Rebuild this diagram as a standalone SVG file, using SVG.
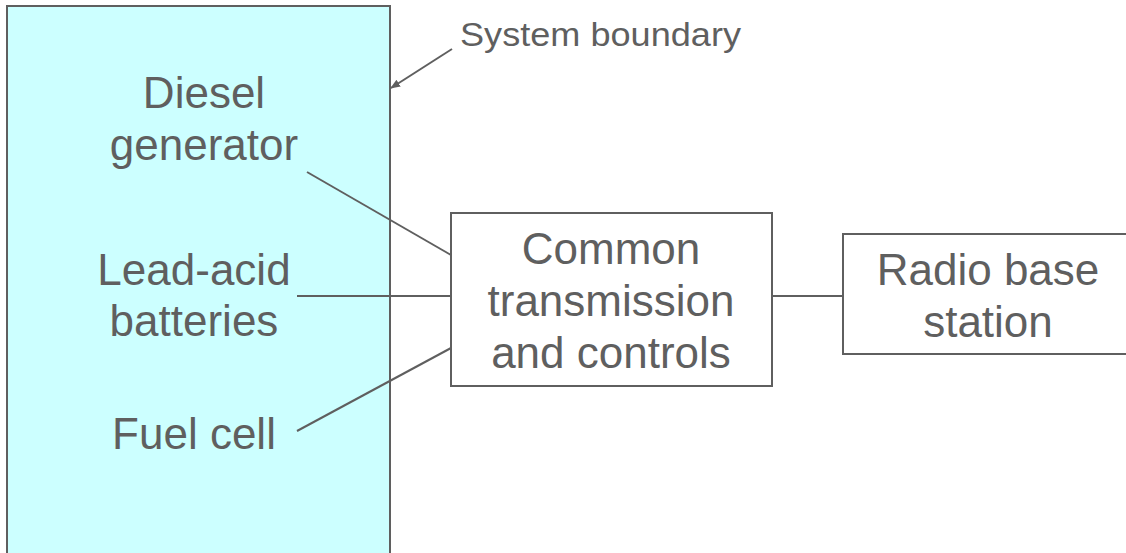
<svg xmlns="http://www.w3.org/2000/svg" width="1126" height="553" viewBox="0 0 1126 553">
<defs>
<style>
.box{stroke:#5f5f5f;stroke-width:2}
.lbl{font-family:"Liberation Sans",Arial,sans-serif;font-size:44px;fill:#5f5f5f;text-anchor:middle}
.sm{font-family:"Liberation Sans",Arial,sans-serif;font-size:34px;fill:#5f5f5f}
.ln{stroke:#5f5f5f;stroke-width:2;fill:none}
</style>
<marker id="ah" markerWidth="10" markerHeight="8" refX="9" refY="4" orient="auto" markerUnits="userSpaceOnUse">
<path d="M0,0 L10,4 L0,8 z" fill="#5f5f5f"/>
</marker>
</defs>
<rect width="1126" height="553" fill="#fff"/>
<g id="boundary">
<rect class="box" x="7" y="6" width="383" height="560" fill="#ccffff"/>
</g>
<g id="diesel"><text class="lbl" x="204" y="108">Diesel</text><text class="lbl" x="204" y="160">generator</text></g>
<g id="leadacid"><text class="lbl" x="194" y="285">Lead-acid</text><text class="lbl" x="194" y="336">batteries</text></g>
<g id="fuelcell"><text class="lbl" x="194" y="449">Fuel cell</text></g>
<g id="common">
<rect class="box" x="451" y="213" width="321" height="173" fill="#fff"/>
<text class="lbl" x="611" y="264">Common</text><text class="lbl" x="611" y="316">transmission</text><text class="lbl" x="611" y="368">and controls</text>
</g>
<g id="radio">
<rect class="box" x="843" y="234" width="290" height="120" fill="#fff"/>
<text class="lbl" x="988" y="285">Radio base</text><text class="lbl" x="988" y="337">station</text>
</g>
<g id="sysboundary-label"><text class="sm" x="460" y="46" textLength="281" lengthAdjust="spacingAndGlyphs">System boundary</text></g>
<g id="connectors">
<line class="ln" x1="307" y1="172" x2="451" y2="255"/>
<line class="ln" x1="297" y1="296" x2="451" y2="296"/>
<line class="ln" x1="297" y1="431" x2="451" y2="348"/>
<line class="ln" x1="772" y1="296" x2="843" y2="296"/>
<line class="ln" x1="452" y1="49" x2="391" y2="88" marker-end="url(#ah)"/>
</g>
</svg>
